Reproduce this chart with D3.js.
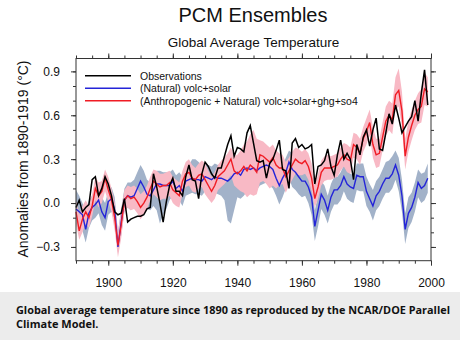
<!DOCTYPE html>
<html>
<head>
<meta charset="utf-8">
<script src="https://d3js.org/d3.v7.min.js"></script>
<style>
  html, body { margin: 0; padding: 0; background: #fff; }
  svg { display: block; font-family: "Liberation Sans", Arial, sans-serif; }
</style>
</head>
<body>
<div id="root"></div>
<script>
// one value per year, 1890..1999
const years = d3.range(1890, 2000);

const observations = [
  -0.03, 0.02, -0.06, -0.03, -0.01, 0.16, 0.18, 0.05, 0.10, 0.18,
  0.13, 0.05, -0.06, -0.08, -0.07, 0.03, -0.13, -0.11, -0.10, -0.09,
  -0.09, -0.08, -0.04, -0.03, 0.20, 0.11, 0.00, -0.13, 0.01, 0.12,
  0.17, 0.08, 0.08, 0.05, 0.18, 0.26, 0.16, 0.15, 0.03, 0.20,
  0.28, 0.25, 0.20, 0.17, 0.24, 0.24, 0.32, 0.40, 0.46, 0.32,
  0.38, 0.37, 0.35, 0.48, 0.53, 0.41, 0.29, 0.28, 0.29, 0.17,
  0.27, 0.30, 0.36, 0.43, 0.23, 0.22, 0.10, 0.41, 0.44, 0.38,
  0.40, 0.37, 0.38, 0.40, 0.13, 0.25, 0.26, 0.29, 0.37, 0.25,
  0.19, 0.33, 0.43, 0.30, 0.34, 0.30, 0.16, 0.40, 0.33, 0.45,
  0.50, 0.39, 0.50, 0.58, 0.37, 0.36, 0.48, 0.61, 0.54, 0.67,
  0.58, 0.48, 0.52, 0.56, 0.59, 0.70, 0.56, 0.75, 0.91, 0.67
];

const natural = [
  -0.04, -0.06, -0.08, -0.18, -0.07, -0.03, -0.01, 0.02, -0.06, -0.10,
  0.01, 0.03, -0.05, -0.30, -0.13, 0.02, 0.05, 0.04, 0.05, 0.10,
  0.15, 0.11, 0.06, 0.05, 0.09, 0.13, 0.13, 0.12, 0.12, 0.12,
  0.15, 0.10, 0.12, 0.08, 0.15, 0.16, 0.17, 0.16, 0.16, 0.15,
  0.18, 0.17, 0.16, 0.18, 0.17, 0.17, 0.16, 0.15, 0.17, 0.20,
  0.21, 0.19, 0.23, 0.24, 0.23, 0.24, 0.22, 0.24, 0.25, 0.26,
  0.25, 0.23, 0.17, 0.12, 0.17, 0.21, 0.28, 0.23, 0.21, 0.18,
  0.15, 0.15, 0.11, 0.04, -0.16, -0.05, 0.06, 0.02, -0.05, 0.04,
  0.09, 0.09, 0.12, 0.18, 0.13, 0.11, 0.10, 0.19, 0.18, 0.18,
  0.08, 0.03, -0.02, 0.05, 0.08, 0.13, 0.17, 0.17, 0.20, 0.26,
  0.19, 0.05, -0.18, -0.07, -0.03, 0.04, 0.14, 0.10, 0.12, 0.17
];
const naturalUpper = [
  0.09, 0.05, 0.00, -0.06, 0.02, 0.05, 0.07, 0.10, 0.04, 0.00,
  0.08, 0.11, 0.04, -0.20, -0.04, 0.10, 0.14, 0.14, 0.16, 0.21,
  0.26, 0.22, 0.16, 0.14, 0.18, 0.22, 0.22, 0.21, 0.21, 0.21,
  0.23, 0.19, 0.21, 0.18, 0.24, 0.26, 0.30, 0.30, 0.28, 0.25,
  0.27, 0.26, 0.25, 0.27, 0.26, 0.27, 0.26, 0.25, 0.27, 0.30,
  0.32, 0.30, 0.34, 0.38, 0.36, 0.34, 0.32, 0.33, 0.34, 0.35,
  0.34, 0.32, 0.27, 0.22, 0.26, 0.31, 0.36, 0.34, 0.32, 0.28,
  0.25, 0.25, 0.22, 0.14, -0.05, 0.05, 0.15, 0.12, 0.05, 0.13,
  0.18, 0.18, 0.21, 0.26, 0.22, 0.20, 0.19, 0.27, 0.27, 0.27,
  0.18, 0.13, 0.09, 0.15, 0.18, 0.23, 0.28, 0.29, 0.32, 0.36,
  0.31, 0.16, -0.07, 0.04, 0.07, 0.14, 0.23, 0.20, 0.21, 0.27
];
const naturalLower = [
  -0.13, -0.16, -0.19, -0.27, -0.17, -0.12, -0.10, -0.07, -0.15, -0.19,
  -0.08, -0.06, -0.14, -0.34, -0.22, -0.06, -0.03, -0.05, -0.03, 0.01,
  0.05, 0.01, -0.04, -0.05, -0.02, -0.05, -0.14, -0.08, -0.04, 0.02,
  0.05, 0.00, 0.02, -0.02, 0.05, 0.06, 0.07, 0.06, 0.06, 0.05,
  0.08, 0.06, 0.05, 0.07, 0.06, 0.05, 0.02, -0.12, -0.14, -0.05,
  0.04, 0.03, 0.05, 0.08, 0.06, 0.10, 0.09, 0.12, 0.13, 0.14,
  0.12, 0.10, 0.05, -0.01, 0.04, 0.10, 0.17, 0.11, 0.09, 0.06,
  0.04, 0.05, 0.00, -0.08, -0.26, -0.16, -0.04, -0.08, -0.14, -0.06,
  -0.01, -0.01, 0.02, 0.08, 0.03, 0.01, 0.00, 0.09, 0.08, 0.08,
  -0.02, -0.06, -0.12, -0.05, -0.02, 0.03, 0.07, 0.07, 0.10, 0.16,
  0.08, -0.06, -0.28, -0.17, -0.13, -0.06, 0.04, 0.00, 0.02, 0.07
];

const anthro = [
  -0.06, -0.19, -0.11, -0.06, -0.10, -0.02, 0.10, 0.05, 0.08, 0.17,
  0.09, 0.02, -0.10, -0.29, -0.15, 0.02, 0.05, 0.03, 0.04, 0.01,
  -0.03, 0.00, 0.04, 0.10, 0.15, 0.13, 0.11, 0.12, 0.12, 0.14,
  0.09, 0.07, 0.05, 0.15, 0.20, 0.21, 0.17, 0.16, 0.19, 0.20,
  0.16, 0.12, 0.08, 0.12, 0.18, 0.20, 0.22, 0.26, 0.30, 0.22,
  0.20, 0.22, 0.25, 0.22, 0.26, 0.24, 0.21, 0.33, 0.32, 0.30,
  0.28, 0.31, 0.26, 0.24, 0.24, 0.18, 0.22, 0.26, 0.30, 0.28,
  0.27, 0.29, 0.25, 0.17, 0.03, 0.11, 0.21, 0.24, 0.24, 0.24,
  0.25, 0.26, 0.30, 0.33, 0.30, 0.29, 0.40, 0.38, 0.34, 0.44,
  0.49, 0.55, 0.40, 0.33, 0.34, 0.45, 0.56, 0.60, 0.57, 0.74,
  0.77, 0.63, 0.32, 0.45, 0.53, 0.60, 0.64, 0.66, 0.78, 0.76
];
const anthroUpper = [
  0.02, -0.08, -0.02, 0.02, -0.02, 0.06, 0.18, 0.14, 0.15, 0.23,
  0.18, 0.10, 0.00, -0.20, -0.05, 0.09, 0.12, 0.11, 0.12, 0.10,
  0.06, 0.08, 0.12, 0.18, 0.23, 0.22, 0.20, 0.20, 0.21, 0.22,
  0.18, 0.16, 0.14, 0.22, 0.28, 0.30, 0.26, 0.24, 0.27, 0.29,
  0.27, 0.22, 0.18, 0.21, 0.26, 0.29, 0.31, 0.34, 0.38, 0.32,
  0.33, 0.36, 0.40, 0.42, 0.47, 0.50, 0.44, 0.43, 0.42, 0.40,
  0.38, 0.40, 0.36, 0.34, 0.33, 0.28, 0.31, 0.35, 0.38, 0.37,
  0.35, 0.37, 0.34, 0.27, 0.12, 0.20, 0.29, 0.32, 0.33, 0.32,
  0.33, 0.34, 0.38, 0.41, 0.40, 0.38, 0.48, 0.47, 0.44, 0.52,
  0.58, 0.64, 0.52, 0.44, 0.44, 0.55, 0.66, 0.70, 0.68, 0.86,
  0.92, 0.76, 0.44, 0.56, 0.64, 0.70, 0.75, 0.78, 0.89, 0.86
];
const anthroLower = [
  -0.14, -0.25, -0.20, -0.14, -0.17, -0.09, 0.02, -0.03, 0.00, 0.08,
  0.01, -0.06, -0.19, -0.37, -0.24, -0.06, -0.03, -0.05, -0.04, -0.07,
  -0.11, -0.08, -0.04, 0.02, 0.06, 0.04, 0.02, 0.03, 0.03, 0.05,
  0.00, -0.02, -0.03, 0.06, 0.11, 0.12, 0.08, 0.07, 0.10, 0.11,
  0.06, 0.03, 0.00, 0.03, 0.09, 0.11, 0.13, 0.16, 0.19, 0.12,
  0.10, 0.08, 0.07, 0.04, 0.06, 0.05, 0.06, 0.14, 0.15, 0.13,
  0.10, 0.12, 0.10, 0.12, 0.13, 0.07, 0.12, 0.16, 0.20, 0.19,
  0.19, 0.20, 0.16, 0.08, -0.03, 0.03, 0.12, 0.15, 0.16, 0.16,
  0.17, 0.18, 0.22, 0.25, 0.21, 0.20, 0.31, 0.30, 0.26, 0.35,
  0.40, 0.46, 0.31, 0.24, 0.25, 0.36, 0.46, 0.50, 0.47, 0.64,
  0.66, 0.52, 0.23, 0.35, 0.43, 0.50, 0.54, 0.55, 0.67, 0.66
];

const yMajorTicks = [-0.3, 0.0, 0.3, 0.6, 0.9];
const yMinorTicks = [-0.3, -0.2, -0.1, 0.0, 0.1, 0.2, 0.3, 0.4, 0.5, 0.6, 0.7, 0.8, 0.9];
const xMajorTicks = [1900, 1920, 1940, 1960, 1980, 2000];
const xMinorTicks = d3.range(1890, 2001, 5);

const legendItems = [
  { label: "Observations", color: "#000000" },
  { label: "(Natural) volc+solar", color: "#2424d8" },
  { label: "(Anthropogenic + Natural) volc+solar+ghg+so4", color: "#f01c24" }
];

const width = 460;
const height = 340;
const plot = { left: 76, right: 431, top: 58.5, bottom: 260.7 };

const svg = d3
  .select("#root")
  .append("svg")
  .attr("width", width)
  .attr("height", height);

const x = d3.scaleLinear().domain([1890, 2000]).range([plot.left, plot.right]);
const y = d3.scaleLinear().domain([-0.394, 0.988]).range([plot.bottom, plot.top]);

// titles
svg.append("text")
  .attr("x", 253).attr("y", 22.3)
  .attr("text-anchor", "middle")
  .attr("font-size", 20)
  .attr("fill", "#111")
  .text("PCM Ensembles");

svg.append("text")
  .attr("x", 253.5).attr("y", 46.7)
  .attr("text-anchor", "middle")
  .attr("font-size", 13.5)
  .attr("fill", "#111")
  .text("Global Average Temperature");

// ensemble spread bands
const band = (lo, hi) => d3.area()
  .x((d, i) => x(years[i]))
  .y0((d, i) => y(lo[i]))
  .y1((d, i) => y(hi[i]));

svg.append("path")
  .attr("d", band(naturalLower, naturalUpper)(years))
  .attr("fill", "#a2b2c9");

svg.append("path")
  .attr("d", band(anthroLower, anthroUpper)(years))
  .attr("fill", "#f8b9c5");

const line = (vals) => d3.line()
  .x((d, i) => x(years[i]))
  .y((d, i) => y(vals[i]));

svg.append("path")
  .attr("d", line(natural)(years))
  .attr("fill", "none")
  .attr("stroke", legendItems[1].color)
  .attr("stroke-width", 1.4);

svg.append("path")
  .attr("d", line(anthro)(years))
  .attr("fill", "none")
  .attr("stroke", legendItems[2].color)
  .attr("stroke-width", 1.4);

svg.append("path")
  .attr("d", line(observations)(years))
  .attr("fill", "none")
  .attr("stroke", legendItems[0].color)
  .attr("stroke-width", 1.5);

// frame
svg.append("rect")
  .attr("x", plot.left).attr("y", plot.top)
  .attr("width", plot.right - plot.left)
  .attr("height", plot.bottom - plot.top)
  .attr("fill", "none")
  .attr("stroke", "#333")
  .attr("stroke-width", 1);

// axes: ticks point outward, mirrored on top and right
const styleAxis = (g) => {
  g.select(".domain").remove();
  g.selectAll(".tick line").attr("stroke", "#333");
  g.attr("font-family", "inherit");
};

svg.append("g")
  .attr("transform", `translate(0,${plot.bottom})`)
  .call(d3.axisBottom(x).tickValues(xMinorTicks).tickSize(3).tickFormat(""))
  .call(styleAxis);
svg.append("g")
  .attr("transform", `translate(0,${plot.bottom})`)
  .call(d3.axisBottom(x).tickValues(xMajorTicks).tickSize(5).tickPadding(13).tickFormat(d3.format("d")))
  .call(styleAxis)
  .call((g) => g.selectAll("text").attr("font-size", 12).attr("fill", "#111"));
svg.append("g")
  .attr("transform", `translate(0,${plot.top})`)
  .call(d3.axisTop(x).tickValues(xMinorTicks).tickSize(3).tickFormat(""))
  .call(styleAxis);
svg.append("g")
  .attr("transform", `translate(0,${plot.top})`)
  .call(d3.axisTop(x).tickValues(xMajorTicks).tickSize(5).tickFormat(""))
  .call(styleAxis);

svg.append("g")
  .attr("transform", `translate(${plot.left},0)`)
  .call(d3.axisLeft(y).tickValues(yMinorTicks).tickSize(3).tickFormat(""))
  .call(styleAxis);
svg.append("g")
  .attr("transform", `translate(${plot.left},0)`)
  .call(d3.axisLeft(y).tickValues(yMajorTicks).tickSize(5).tickPadding(11).tickFormat(d3.format(".1f")))
  .call(styleAxis)
  .call((g) => g.selectAll("text").attr("font-size", 12).attr("fill", "#111"));
svg.append("g")
  .attr("transform", `translate(${plot.right},0)`)
  .call(d3.axisRight(y).tickValues(yMinorTicks).tickSize(3).tickFormat(""))
  .call(styleAxis);
svg.append("g")
  .attr("transform", `translate(${plot.right},0)`)
  .call(d3.axisRight(y).tickValues(yMajorTicks).tickSize(5).tickFormat(""))
  .call(styleAxis);

// y axis title
svg.append("text")
  .attr("transform", "translate(28,159) rotate(-90)")
  .attr("text-anchor", "middle")
  .attr("font-size", 14)
  .attr("fill", "#111")
  .text("Anomalies from 1890-1919 (°C)");

// legend
const legend = svg.append("g");
legendItems.forEach((item, i) => {
  const ly = 75.7 + i * 12.5;
  legend.append("line")
    .attr("x1", 85).attr("x2", 131)
    .attr("y1", ly).attr("y2", ly)
    .attr("stroke", item.color)
    .attr("stroke-width", 1.5);
  legend.append("text")
    .attr("x", 140).attr("y", ly)
    .attr("dominant-baseline", "central")
    .attr("font-size", 10.5)
    .attr("fill", "#111")
    .text(item.label);
});

// caption
svg.append("rect")
  .attr("x", 0).attr("y", 292)
  .attr("width", width).attr("height", height - 292)
  .attr("fill", "#ececec");

const caption = svg.append("text")
  .attr("font-family", "'Open Sans', 'DejaVu Sans', sans-serif")
  .attr("font-weight", "bold")
  .attr("font-size", 11)
  .attr("fill", "#111");
caption.append("tspan")
  .attr("x", 16).attr("y", 313.5)
  .attr("textLength", 434)
  .attr("lengthAdjust", "spacingAndGlyphs")
  .text("Global average temperature since 1890 as reproduced by the NCAR/DOE Parallel");
caption.append("tspan")
  .attr("x", 16).attr("y", 327.5)
  .text("Climate Model.");
</script>
</body>
</html>
